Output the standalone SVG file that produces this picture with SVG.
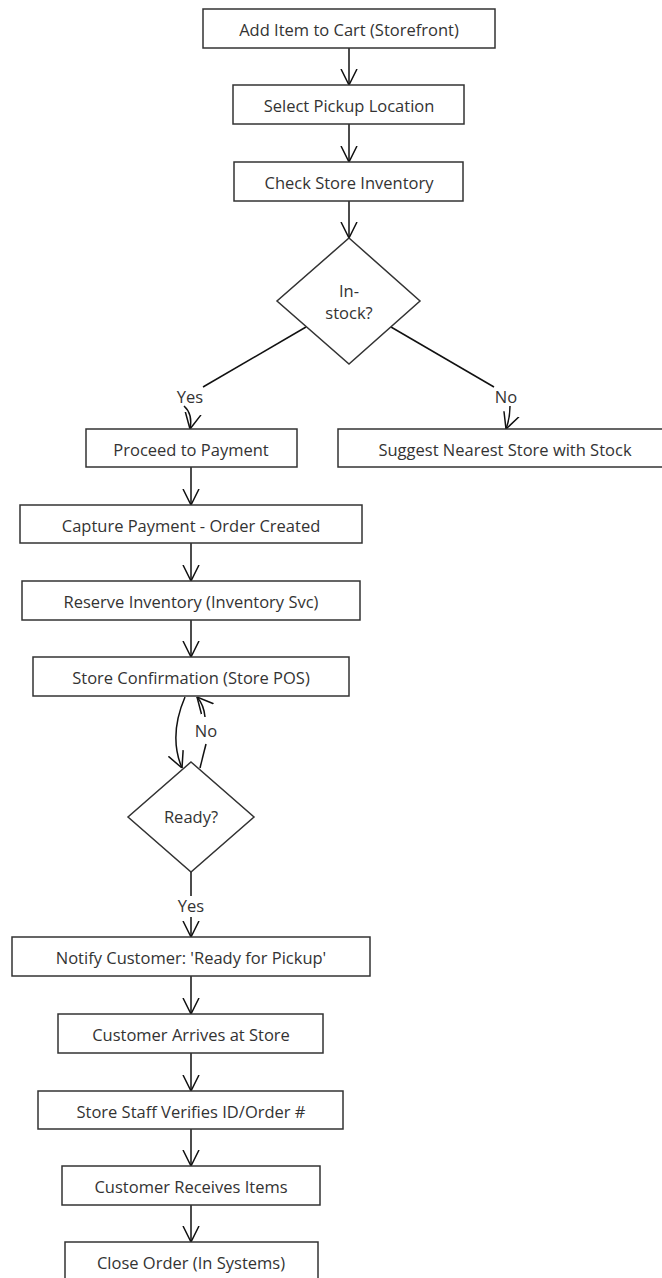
<svg xmlns="http://www.w3.org/2000/svg" width="662" height="1278" viewBox="0 0 662 1278">
<defs>
<marker id="arr" viewBox="0 0 16 18" refX="16" refY="9" markerWidth="16" markerHeight="18" markerUnits="userSpaceOnUse" orient="auto">
<path d="M0,1 L16,9 L0,17" fill="none" stroke="#111" stroke-width="1.5"/>
</marker>
<style>
.box{fill:#fff;stroke:#333;stroke-width:1.5}
.t{font-family:"Open Sans","Noto Sans",sans-serif;font-size:16.5px;fill:#333;text-anchor:middle}
.e{fill:none;stroke:#111;stroke-width:1.5}
</style>
</defs>
<rect width="662" height="1278" fill="#fff"/>
<g id="connectors">
<path class="e" d="M349,48 L349,85" marker-end="url(#arr)"/>
<path class="e" d="M349,124 L349,162" marker-end="url(#arr)"/>
<path class="e" d="M349,201 L349,238" marker-end="url(#arr)"/>
<path class="e" d="M306,327 L203,387"/>
<path class="e" d="M184,406 Q193,414 190,429" marker-end="url(#arr)"/>
<path class="e" d="M391,327 L494,387"/>
<path class="e" d="M510,406 Q510,418 506,429" marker-end="url(#arr)"/>
<path class="e" d="M191,467 L191,505" marker-end="url(#arr)"/>
<path class="e" d="M191,543 L191,581" marker-end="url(#arr)"/>
<path class="e" d="M191,620 L191,657" marker-end="url(#arr)"/>
<path class="e" d="M185,697 C176,718 171,742 182,768" marker-end="url(#arr)"/>
<path class="e" d="M200,768 L206,744"/>
<path class="e" d="M205,717 Q204,705 197,697" marker-end="url(#arr)"/>
<path class="e" d="M191,872 L191,896"/>
<path class="e" d="M191,917 L191,937" marker-end="url(#arr)"/>
<path class="e" d="M191,976 L191,1014" marker-end="url(#arr)"/>
<path class="e" d="M191,1053 L191,1091" marker-end="url(#arr)"/>
<path class="e" d="M191,1129 L191,1166" marker-end="url(#arr)"/>
<path class="e" d="M191,1205 L191,1242" marker-end="url(#arr)"/>
<text class="t" x="190" y="403">Yes</text>
<text class="t" x="506" y="403">No</text>
<text class="t" x="206" y="737">No</text>
<text class="t" x="191" y="912">Yes</text>
</g>
<g id="n1"><rect class="box" x="203" y="9" width="292" height="39"/><text class="t" x="349" y="36">Add Item to Cart (Storefront)</text></g>
<g id="n2"><rect class="box" x="233" y="85" width="231" height="39"/><text class="t" x="349" y="112">Select Pickup Location</text></g>
<g id="n3"><rect class="box" x="234" y="162" width="229" height="39"/><text class="t" x="349" y="189">Check Store Inventory</text></g>
<g id="d1"><polygon class="box" points="349,238 420,301 349,364 277,301"/><text class="t" x="349" y="297">In-</text><text class="t" x="349" y="319">stock?</text></g>
<g id="n4"><rect class="box" x="86" y="429" width="211" height="38"/><text class="t" x="191" y="456">Proceed to Payment</text></g>
<g id="n5"><rect class="box" x="338" y="429" width="334" height="38"/><text class="t" x="505" y="456">Suggest Nearest Store with Stock</text></g>
<g id="n6"><rect class="box" x="20" y="505" width="342" height="38"/><text class="t" x="191" y="532">Capture Payment - Order Created</text></g>
<g id="n7"><rect class="box" x="22" y="581" width="338" height="39"/><text class="t" x="191" y="608">Reserve Inventory (Inventory Svc)</text></g>
<g id="n8"><rect class="box" x="33" y="657" width="316" height="39"/><text class="t" x="191" y="684">Store Confirmation (Store POS)</text></g>
<g id="d2"><polygon class="box" points="191,762 254,817 191,872 128,817"/><text class="t" x="191" y="823">Ready?</text></g>
<g id="n9"><rect class="box" x="12" y="937" width="358" height="39"/><text class="t" x="191" y="964">Notify Customer: 'Ready for Pickup'</text></g>
<g id="n10"><rect class="box" x="58" y="1014" width="265" height="39"/><text class="t" x="191" y="1041">Customer Arrives at Store</text></g>
<g id="n11"><rect class="box" x="38" y="1091" width="305" height="38"/><text class="t" x="191" y="1118">Store Staff Verifies ID/Order #</text></g>
<g id="n12"><rect class="box" x="62" y="1166" width="258" height="39"/><text class="t" x="191" y="1193">Customer Receives Items</text></g>
<g id="n13"><rect class="box" x="65" y="1242" width="253" height="39"/><text class="t" x="191" y="1269">Close Order (In Systems)</text></g>
</svg>
